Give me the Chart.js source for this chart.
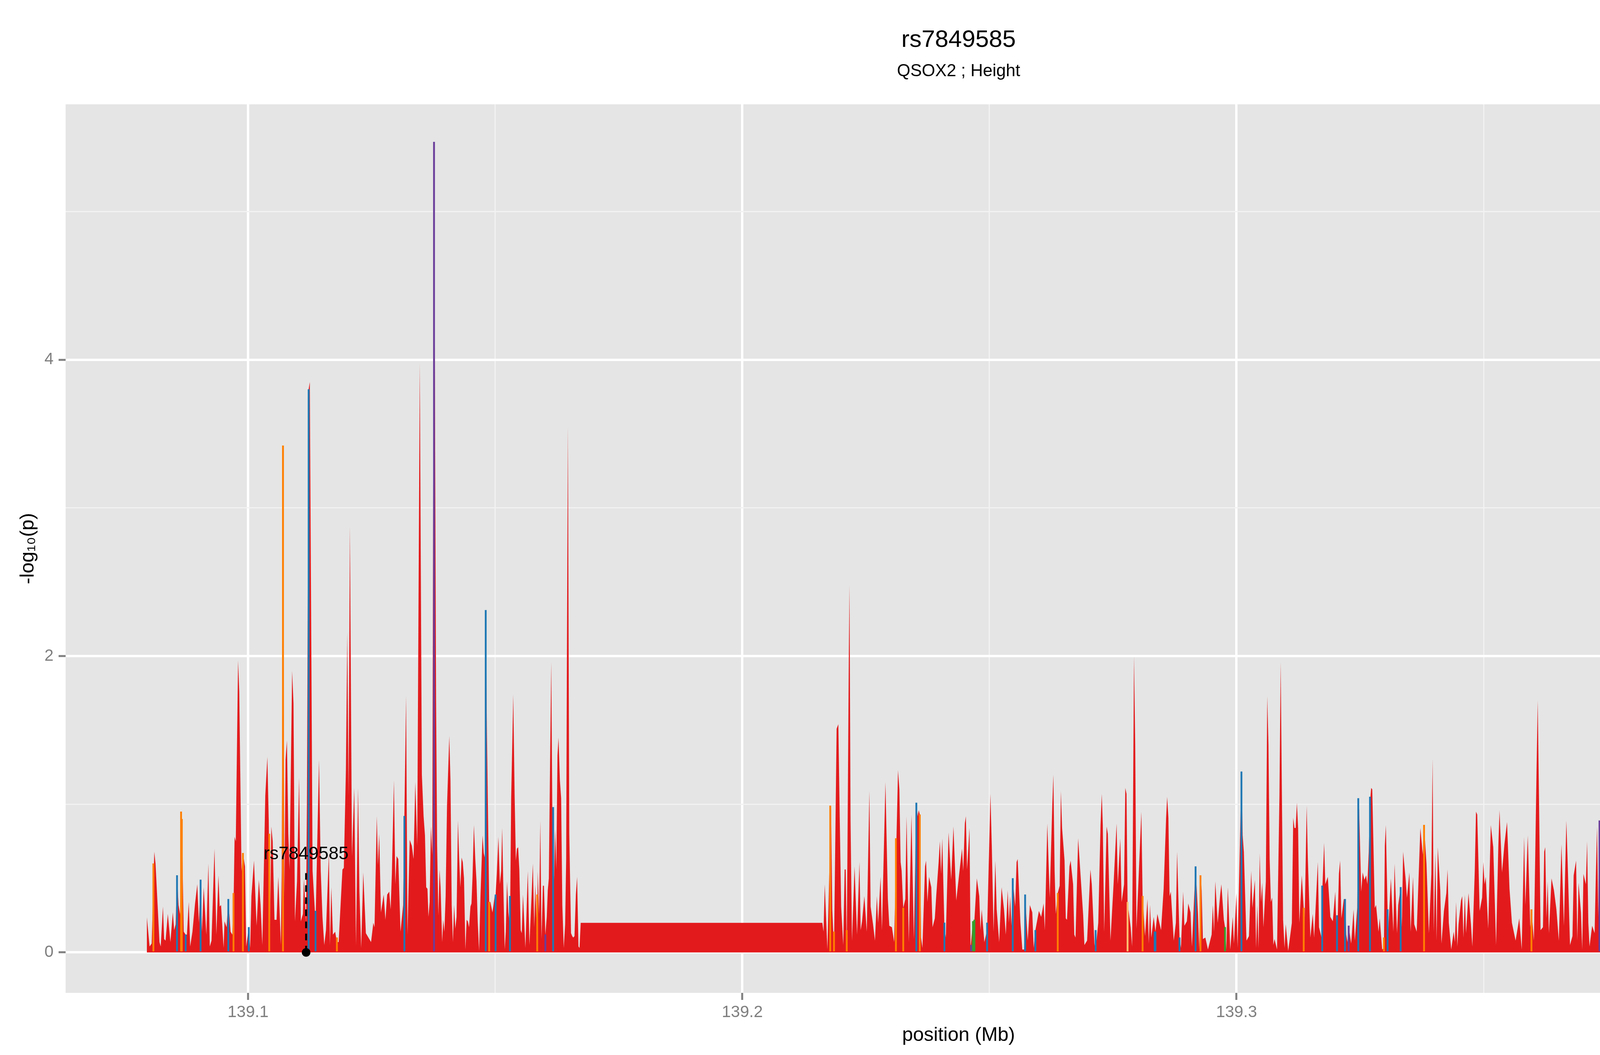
<!DOCTYPE html>
<html lang="en">
<head>
    <meta charset="UTF-8">
    <title>rs7849585 - QSOX2 ; Height</title>
    <script src="https://cdn.jsdelivr.net/npm/chart.js@4.4.0/dist/chart.umd.min.js"></script>
    <style>
        html, body { margin: 0; padding: 0; background: #ffffff; overflow: hidden; }
        #regionChart { display: block; width: 100vw; height: 100vh; }
    </style>
</head>
<body>
    <canvas id="regionChart" width="4800" height="2700"></canvas>
    <script>
        // Titles
        const titleText = 'rs7849585';
        const subtitleText = 'QSOX2 ; Height';
        const xTitle = 'position (Mb)';
        const yTitle = '-log\u2081\u2080(p)';

        // Positions are kb above 139.0 Mb, values are -log10(p)
        const posA = [79.52,80.08,80.5,81.03,81.28,82.08,82.33,82.78,83.03,83.31,
            83.77,84.29,84.78,85.06,85.35,85.63,85.94,86.29,86.54,86.75,
            86.99,87.38,87.63,88.01,88.29,88.75,89.28,89.73,90.05,90.4,
            90.68,91.03,91.56,91.98,92.26,92.61,93.21,93.59,94.01,94.26,
            94.54,95.06,95.24,95.66,96.01,96.47,96.82,97.06,97.28,97.52,
            97.98,98.22,98.68,98.96,99.38,99.63,100.15,100.43,100.68,101.2,
            101.73,102.19,102.54,102.89,103.49,103.91,104.19,104.43,104.71,104.99,
            105.35,105.77,106.12,106.64,106.82,107.07,107.35,107.59,107.87,108.15,
            108.4,108.92,109.2,109.49,109.91,110.33,110.68,111.1,111.31,111.73,
            111.91,112.26,112.5,113.06,113.66,114.36,114.71,115.06,115.42,115.77,
            116.36,116.57,116.85,117.17,117.63,117.98,118.33,119.1,119.38,119.8,
            120.08,120.33,120.61,121.03,121.49,121.84,122.26,122.54,122.89,123.31,
            123.84,124.36,124.89,125.35,125.59,126.05,126.29,126.54,126.89,127.45,
            127.8,128.15,128.57,128.85,129.1,129.52,129.8,130.05,130.4,130.85,
            131.38,131.63,131.98,132.26,132.71,133.14,133.49,133.84];
        const valA = [0.24,0.04,0.06,0.68,0.60,0.07,0.04,0.31,0.09,0.08,
            0.26,0.07,0.27,0.15,0.19,0.52,0.32,0.25,0.95,0.60,
            0.14,0.12,0.12,0.34,0.04,0.14,0.33,0.46,0.20,0.49,
            0.14,0.44,0.12,0.60,0.04,0.08,0.70,0.12,0.52,0.31,
            0.32,0.03,0.21,0.17,0.36,0.14,0.12,0.30,0.78,0.75,
            1.97,1.76,0.55,0.67,0.58,0.04,0.17,0.03,0.38,0.62,
            0.18,0.49,0.32,0.05,1.06,1.32,0.89,0.17,0.85,0.75,
            0.22,0.22,0.51,0.05,0.55,3.42,0.38,1.30,1.43,0.80,
            0.56,1.90,1.68,0.21,0.48,1.18,0.21,0.26,0.50,0.20,
            1.00,3.80,3.85,0.55,0.20,1.30,0.55,0.24,0.05,0.15,
            0.67,0.05,0.44,0.12,0.14,0.07,0.07,0.56,0.57,1.23,
            2.16,1.06,2.88,0.65,1.11,0.05,1.11,0.41,0.03,0.54,
            0.13,0.10,0.07,0.20,0.17,0.92,0.59,0.80,0.27,0.39,
            0.22,0.39,0.41,0.29,0.53,1.16,0.46,0.65,0.63,0.14,
            0.32,0.92,1.73,0.12,0.76,0.72,0.63,1.15];

        const posB = [134.23,134.75,135.17,135.52,135.8,136.05,136.3,136.51,136.75,137.0,
            137.28,137.63,138.05,138.26,138.51,138.75,138.96,139.28,139.49,139.73,
            139.98,140.26,140.72,140.96,141.21,141.45,141.7,141.94,142.19,142.47,
            142.72,142.96,143.21,143.45,143.7,143.98,144.23,144.47,144.72,145.0,
            145.21,145.42,145.7,145.98,146.23,146.47,146.75,147.03,147.45,147.7,
            147.91,148.09,148.33,148.58,148.79,149.03,149.45,149.91,150.09,150.33,
            150.65,150.96,151.21,151.42,151.66,151.94,152.15,152.4,152.68,153.0,
            153.24,153.66,153.94,154.19,154.4,154.65,154.89,155.17,155.38,155.63,
            156.12,156.61,156.93,157.38,157.63,157.91,158.12,158.51,158.61,158.89,
            159.14,159.38,159.66,159.87,160.16,160.44,160.65,160.86,161.14,161.35,
            161.56,161.91,162.12,162.37,162.61,162.82,163.1,163.35,163.59,163.88,
            164.16,164.37,164.51,164.72,165.0,165.35,165.59,165.8,166.05,166.33,
            166.58,166.86,167.07,167.31];
        const valB = [0.72,3.98,1.20,0.92,0.79,0.44,0.43,0.24,0.34,0.85,
            0.66,5.47,1.70,0.72,0.25,0.56,0.44,0.07,0.22,0.14,
            0.38,0.99,1.46,1.16,0.32,0.07,0.32,0.16,0.24,0.89,
            0.63,0.44,0.64,0.61,0.50,0.02,0.22,0.21,0.17,0.31,
            0.33,0.51,0.86,0.63,0.48,0.21,0.01,0.38,0.79,0.67,
            0.64,2.31,1.50,0.87,0.34,0.34,0.27,0.38,0.39,0.53,
            0.78,0.46,0.55,0.84,0.44,0.02,0.14,0.48,0.27,0.17,
            1.04,1.74,1.06,0.62,0.70,0.71,0.56,0.15,0.13,0.39,
            0.03,0.55,0.05,0.39,0.60,0.17,0.46,0.03,0.55,0.26,
            0.89,0.09,0.45,0.45,0.12,0.24,0.42,0.50,1.37,1.96,
            0.98,0.49,0.83,0.56,1.33,1.45,1.16,1.04,0.32,0.03,
            0.19,0.63,1.95,3.55,0.80,0.13,0.11,0.10,0.11,0.39,
            0.51,0.04,0.03,0.20];

        const posC = [216.2,216.44,216.69,217.22,217.5,217.78,217.96,218.21,218.56,219.09,
            219.44,219.73,220.01,220.43,220.71,220.93,221.14,221.56,221.7,221.91,
            222.2,222.72,223.22,223.71,223.96,224.24,224.7,225.19,225.72,225.97,
            226.46,226.85,227.24,227.49,227.98,228.26,228.97,229.46,229.75,230.28,
            230.73,231.09,231.51,231.79,232.04,232.25,232.57,232.99,233.24,233.7,
            234.23,234.72,235.22,235.5,235.71,235.92,236.17,236.45,236.98,237.19,
            237.47,237.79,238.25,238.5,238.96,239.24,239.73,239.98,240.23,240.47,
            240.9,241.18,241.74,242.27,242.73,243.3,243.79,244.46,244.71,245.03,
            245.24,245.48,245.98,246.19,246.68,246.97,247.46,247.95,248.2,248.45,
            248.98,249.54,249.96,250.21,250.49,250.85,251.2,251.48,251.98,252.47,
            252.96,253.32,253.71,253.95,254.2,254.45,254.73,255.22,255.5,255.72,
            256.28,256.67,257.02,257.23,257.76,258.19,258.68,258.96,259.31,260.02,
            260.48,260.97,261.22,261.72,262.21,262.74,262.95,263.2,263.44,263.83,
            264.22,264.47,264.71,265.21,265.46,265.7,266.2,266.44,266.94,267.18,
            267.43,267.96,268.45,268.98,269.23];
        const valC = [0.20,0.14,0.46,0.02,0.38,0.79,0.99,0.29,0.02,1.51,
            1.54,0.89,0.31,0.05,0.56,0.56,0.03,2.00,2.48,0.89,
            0.08,0.58,0.12,0.61,0.15,0.21,0.38,0.14,1.09,0.31,
            0.19,0.08,0.38,0.20,0.51,0.15,1.15,0.36,0.18,0.17,
            0.07,0.60,1.23,1.10,0.61,0.55,0.30,0.36,0.92,0.07,
            0.93,0.09,1.01,0.92,0.96,0.93,0.10,0.03,0.58,0.62,
            0.34,0.51,0.44,0.17,0.23,0.38,0.61,0.75,0.53,0.77,
            0.17,0.10,0.81,0.49,0.85,0.35,0.50,0.70,0.55,0.87,
            0.92,0.56,0.84,0.03,0.21,0.22,0.50,0.38,0.15,0.29,
            0.07,0.15,0.72,1.07,0.72,0.14,0.62,0.29,0.07,0.44,
            0.29,0.12,0.42,0.20,0.38,0.18,0.50,0.31,0.61,0.63,
            0.20,0.02,0.02,0.39,0.08,0.32,0.27,0.03,0.15,0.28,
            0.24,0.33,0.15,0.87,0.37,1.01,1.20,0.55,0.26,0.40,
            0.45,1.09,0.84,0.62,0.23,0.22,0.58,0.62,0.46,0.12,
            0.10,0.77,0.52,0.25,0.05];

        const posD = [269.77,270.44,270.72,271.25,271.5,272.03,272.49,272.74,272.95,273.23,
            273.72,273.97,274.5,275.14,275.74,275.98,276.48,276.76,277.25,277.5,
            277.75,277.96,278.59,278.88,279.26,279.51,279.76,280.25,280.75,281.0,
            281.49,281.98,282.26,282.51,282.76,283.25,283.6,283.99,284.73,285.26,
            285.76,285.97,286.22,286.46,286.71,287.31,287.73,287.98,288.47,288.76,
            289.21,289.46,289.96,290.24,290.7,290.98,291.72,292.21,292.46,292.71,
            292.95,293.2,293.7,294.22,294.97,295.21,295.46,295.71,296.2,296.7,
            296.94,297.44,297.68,297.93,298.25,298.74,299.24,299.48,299.98,300.22,
            300.79,301.0,301.25,301.49,302.02,302.52,302.98,303.22,303.72,303.96,
            304.21,304.46,304.7,304.95,305.2,305.45,305.94,306.22,306.47,306.71,
            306.96,307.21,307.46,307.7,308.2,308.69,308.94,309.19,309.43,309.72,
            309.96,310.46,311.2,311.48,311.73,311.97,312.22,312.47,312.71,313.21,
            313.6,313.7,314.2,314.44,314.94,315.43,315.71,316.46,316.7,317.2,
            317.34,317.73,317.97,318.47,318.99,319.49,319.98,320.34,320.72,320.97,
            321.22,321.71,321.96,322.21,322.45,322.7,323.2,323.69,323.94,324.43,
            324.64];
        const valD = [0.08,0.56,0.46,0.06,0.02,0.20,0.86,1.07,0.86,0.14,
            0.85,0.80,0.08,0.47,0.87,0.46,0.77,0.34,0.46,1.11,
            1.07,0.34,0.17,0.04,2.00,1.40,0.16,0.55,0.95,0.38,
            0.11,0.36,0.06,0.32,0.10,0.24,0.14,0.26,0.15,0.43,
            0.91,1.05,0.91,0.38,0.41,0.08,0.20,0.68,0.10,0.03,
            0.41,0.18,0.21,0.33,0.27,0.04,0.58,0.26,0.02,0.52,
            0.42,0.09,0.10,0.02,0.12,0.32,0.14,0.48,0.20,0.39,
            0.46,0.22,0.17,0.02,0.44,0.02,0.24,0.06,0.40,0.03,
            0.89,1.22,0.79,0.68,0.08,0.11,0.55,0.30,0.49,0.03,
            0.32,0.03,0.67,0.34,0.47,0.17,0.48,1.73,1.40,0.63,
            0.34,0.37,0.05,0.09,0.02,1.06,1.96,1.06,0.22,0.03,
            0.19,0.01,0.20,0.91,0.84,0.84,1.01,0.84,0.20,0.52,
            0.30,0.05,0.99,0.63,0.10,0.26,0.10,0.61,0.17,0.10,
            0.40,0.74,0.46,0.51,0.24,0.21,0.41,0.05,0.53,0.62,
            0.23,0.36,0.36,0.12,0.07,0.18,0.06,0.29,0.08,0.30,
            1.04];

        const posE = [324.82,325.24,325.53,325.88,326.23,326.48,326.76,327.01,327.25,327.47,
            327.98,328.24,328.74,328.98,329.48,329.83,330.01,330.22,330.57,330.71,
            331.24,331.74,331.98,332.48,332.72,333.22,333.46,333.71,334.21,334.49,
            334.98,335.23,335.72,335.97,336.46,337.2,337.7,337.95,338.44,338.93,
            339.43,339.68,339.92,340.24,340.49,340.73,341.23,341.47,341.97,342.46,
            342.71,342.96,343.45,343.94,344.19,344.44,344.69,344.93,345.43,345.67,
            345.92,346.2,346.45,346.94,347.44,347.72,348.21,348.46,348.71,349.2,
            349.7,349.94,350.19,350.44,350.93,351.46,351.95,352.52,352.98,353.22,
            353.72,354.21,354.74,355.24,355.73,356.47,356.97,357.21,357.71,358.2,
            358.45,358.94,359.44,359.68,360.18,360.71,360.95,361.2,361.52,362.01,
            362.26,362.47,362.72,362.96,363.21,363.74,364.23,364.73,365.22,365.75,
            366.25,366.74,366.99,367.48,367.98,368.22,368.71,368.96,369.21,369.7,
            369.95,370.2,370.69,370.94,371.19,371.43,371.96,372.46,372.7,372.95,
            373.2,373.45,373.94,374.19,374.43,374.68,374.93,375.46,375.7,376.2,
            376.69,376.94,377.43,377.93,378.42,378.67,379.16,379.66,380.15];
        const valE = [0.96,0.41,0.54,0.49,0.52,0.46,0.68,1.01,1.11,1.10,
            0.30,0.32,0.14,0.23,0.02,0.03,0.72,0.86,0.29,0.15,
            0.50,0.14,0.60,0.13,0.32,0.44,0.17,0.68,0.50,0.37,
            0.54,0.14,0.51,0.19,0.14,0.84,0.66,0.86,0.60,0.13,
            0.53,1.31,0.14,0.67,0.08,0.71,0.42,0.06,0.28,0.40,
            0.56,0.20,0.02,0.14,0.07,0.34,0.04,0.19,0.35,0.38,
            0.10,0.39,0.13,0.40,0.19,0.04,0.55,0.95,0.93,0.28,
            0.37,0.61,0.46,0.51,0.16,0.86,0.71,0.05,0.72,0.96,
            0.54,0.73,0.88,0.43,0.20,0.08,0.18,0.23,0.02,0.78,
            0.32,0.79,0.17,0.29,0.08,1.23,1.70,1.06,0.15,0.17,
            0.68,0.71,0.23,0.48,0.13,0.50,0.42,0.29,0.08,0.73,
            0.18,0.89,0.63,0.05,0.11,0.52,0.62,0.08,0.47,0.27,
            0.02,0.53,0.46,0.75,0.20,0.04,0.18,0.13,0.51,0.85,
            0.24,0.89,0.09,0.32,0.11,0.27,0.06,0.74,0.97,0.02,
            0.19,0.03,0.58,0.37,0.31,0.11,0.43,0.02,0.10];

        const posF = [380.48,381.0,381.53,382.0,382.27,382.53,382.98,383.24,383.51,383.77,
            384.03,384.3,384.77,385.03,385.3,385.56,385.77,386.27,386.54,386.75,
            387.01,387.27,387.51,388.01,388.28,388.54,388.99,389.25,389.75,390.04,
            390.25,390.49,390.75,390.96,391.54,391.75,391.96,392.23,392.33,392.76,
            393.26,393.49,393.73,393.97,394.13,394.34,394.73,395.05,395.26,395.52,
            395.89,396.37,396.73,397.02,397.29,397.76,398.03,398.21,398.53,399.0,
            399.26,399.74,399.98,400.5,400.74,401.0,401.27,401.77,401.98,402.24,
            402.77,403.03,403.48,403.74,404.22,404.46,404.88,405.01,405.72,406.25,
            406.48,406.98,407.22,407.51,407.75,407.96];
        const valF = [0.08,0.26,0.34,0.39,0.17,0.06,0.29,0.92,0.50,0.99,
            0.86,0.37,0.20,0.10,0.51,0.38,0.50,0.56,0.24,0.08,
            0.65,0.19,0.14,0.38,1.08,0.32,0.42,0.07,0.76,0.38,
            0.36,0.61,0.68,0.20,1.06,1.42,0.97,0.38,0.12,0.31,
            0.33,0.62,0.47,0.52,0.26,0.32,0.64,0.32,0.20,0.32,
            0.20,0.25,0.69,0.38,0.29,0.34,0.31,0.45,0.02,0.50,
            0.24,0.62,0.72,0.14,0.11,0.42,0.49,0.44,0.51,0.38,
            0.32,0.22,0.12,0.02,0.18,0.05,0.63,0.77,0.48,0.80,
            0.63,0.83,0.44,0.65,0.63,0.43];

        // SNPs in other annotation classes (drawn as thin coloured slivers)
        const orangePos = [80.85,86.45,86.6,97.06,98.96,104.29,107.07,117.98,148.79,158.51,
            217.8,218.56,221.14,231.09,232.57,235.92,263.83,281.0,292.71,313.6,
            329.83,337.95,359.68,385.56,390.75,397.29];
        const orangeVal = [0.60,0.95,0.90,0.40,0.67,0.80,3.42,0.10,0.34,0.39,
            0.99,0.14,0.15,0.77,0.30,0.93,0.40,0.38,0.52,0.30,
            0.10,0.86,0.29,0.38,0.68,0.29];
        const peachPos = [277.96];
        const peachVal = [0.34];
        const bluePos = [85.63,87.38,90.4,96.01,100.15,112.26,113.66,131.63,148.09,150.09,
            153.0,161.73,235.22,240.9,249.54,254.73,257.23,259.31,271.5,283.45,
            283.6,288.47,291.72,301.0,317.34,320.34,321.96,324.64,327.01,330.57,
            333.22,383.24,383.4,394.13,395.89,403.03,404.88];
        const blueVal = [0.52,0.12,0.49,0.36,0.17,3.80,0.28,0.92,2.31,0.39,
            0.38,0.98,1.01,0.20,0.20,0.50,0.39,0.15,0.15,0.14,
            0.14,0.10,0.58,1.22,0.45,0.25,0.36,1.04,1.05,0.29,
            0.44,0.92,0.70,0.45,0.20,0.22,0.63];
        const purplePos = [137.63,160.16,246.3,322.7,373.45];
        const purpleVal = [5.47,0.12,0.05,0.18,0.89];
        const greenPos = [246.68,246.97,297.68];
        const greenVal = [0.21,0.22,0.17];

        // Highlighted SNP
        const leadSnp = 'rs7849585';
        const leadPos = 111.75;
        const leadLineTop = 0.55;
        const leadLabelY = 0.63;

        // Axes
        const xRange = [139.06309, 139.42445];
        const yRange = [-0.273, 5.724];
        const xMajorTicks = [139.1, 139.2, 139.3, 139.4];
        const xMinorTicks = [139.15, 139.25, 139.35];
        const yMajorTicks = [0, 2, 4];
        const yMinorTicks = [1, 3, 5];

        const toMb = kb => 139 + kb / 1000;
        const toPoints = (p, v) => p.map((kb, i) => ({ x: toMb(kb), y: v[i] }));

        const areaPoints = [].concat(
            toPoints(posA, valA), toPoints(posB, valB), toPoints(posC, valC),
            toPoints(posD, valD), toPoints(posE, valE), toPoints(posF, valF)
        );

        const isMajor = (list, v) => list.some(t => Math.abs(t - v) < 1e-9);

        Chart.defaults.font.family = '"Liberation Sans", Arial, sans-serif';

        const panelBackground = {
            id: 'panelBackground',
            beforeDraw(chart) {
                const { ctx, chartArea: a } = chart;
                ctx.save();
                ctx.fillStyle = '#E5E5E5';
                ctx.fillRect(a.left, a.top, a.right - a.left, a.bottom - a.top);
                ctx.restore();
            }
        };

        const headerText = {
            id: 'headerText',
            afterDraw(chart) {
                const { ctx, chartArea: a, scales } = chart;
                const cx = (a.left + a.right) / 2;
                ctx.save();
                ctx.fillStyle = '#000000';
                ctx.textAlign = 'center';
                ctx.textBaseline = 'alphabetic';
                ctx.font = '62px "Liberation Sans"';
                ctx.fillText(titleText, cx, 120);
                ctx.font = '44px "Liberation Sans"';
                ctx.fillText(subtitleText, cx, 195);
                // label of the highlighted SNP
                ctx.font = '46px "Liberation Sans"';
                ctx.fillText(leadSnp, scales.x.getPixelForValue(toMb(leadPos)),
                    scales.y.getPixelForValue(leadLabelY));
                ctx.restore();
            }
        };

        const sliver = (label, pos, val, color) => ({
            type: 'bar',
            label: label,
            data: toPoints(pos, val),
            backgroundColor: color,
            borderWidth: 0,
            barThickness: 4,
            grouped: false,
            order: 2
        });

        new Chart(document.getElementById('regionChart'), {
            type: 'line',
            data: {
                datasets: [
                    {
                        label: 'other',
                        data: areaPoints,
                        fill: 'origin',
                        backgroundColor: '#E31A1C',
                        borderColor: '#E31A1C',
                        borderWidth: 0,
                        pointRadius: 0,
                        tension: 0,
                        order: 3
                    },
                    sliver('orange', orangePos, orangeVal, '#FF7F00'),
                    sliver('peach', peachPos, peachVal, '#FDBF6F'),
                    sliver('blue', bluePos, blueVal, '#1F78B4'),
                    sliver('purple', purplePos, purpleVal, '#6A3D9A'),
                    sliver('green', greenPos, greenVal, '#33A02C'),
                    {
                        label: 'lead line',
                        data: [{ x: toMb(leadPos), y: 0 }, { x: toMb(leadPos), y: leadLineTop }],
                        borderColor: '#000000',
                        borderWidth: 5,
                        borderDash: [17, 14],
                        pointRadius: 0,
                        fill: false,
                        order: 1
                    },
                    {
                        label: 'lead point',
                        data: [{ x: toMb(leadPos), y: 0 }],
                        showLine: false,
                        pointRadius: 11,
                        pointBackgroundColor: '#000000',
                        pointBorderWidth: 0,
                        order: 0
                    }
                ]
            },
            options: {
                responsive: false,
                animation: false,
                devicePixelRatio: 1,
                layout: { padding: { top: 267, right: 60, bottom: 0, left: 0 } },
                plugins: {
                    legend: { display: false },
                    tooltip: { enabled: false }
                },
                scales: {
                    x: {
                        type: 'linear',
                        min: xRange[0],
                        max: xRange[1],
                        offset: false,
                        afterBuildTicks: s => {
                            s.ticks = xMajorTicks.concat(xMinorTicks).sort((a, b) => a - b).map(v => ({ value: v }));
                        },
                        afterFit: s => { s.height = 159; },
                        ticks: {
                            autoSkip: false,
                            maxRotation: 0,
                            padding: 7,
                            color: '#7F7F7F',
                            font: { size: 42 },
                            callback: v => isMajor(xMajorTicks, v) ? v.toFixed(1) : ''
                        },
                        grid: {
                            offset: false,
                            color: c => isMajor(xMajorTicks, c.tick.value) ? '#FFFFFF' : '#F2F2F2',
                            lineWidth: c => isMajor(xMajorTicks, c.tick.value) ? 6 : 3,
                            tickLength: 18,
                            tickWidth: 5,
                            tickColor: c => isMajor(xMajorTicks, c.tick.value) ? '#7F7F7F' : 'rgba(0,0,0,0)'
                        },
                        border: { display: false },
                        title: {
                            display: true,
                            text: xTitle,
                            color: '#000000',
                            font: { size: 50 },
                            padding: { top: 0, bottom: 20 }
                        }
                    },
                    y: {
                        type: 'linear',
                        min: yRange[0],
                        max: yRange[1],
                        afterBuildTicks: s => {
                            s.ticks = yMajorTicks.concat(yMinorTicks).sort((a, b) => a - b).map(v => ({ value: v }));
                        },
                        afterFit: s => { s.width = 168; },
                        ticks: {
                            autoSkip: false,
                            padding: 13,
                            color: '#7F7F7F',
                            font: { size: 42 },
                            callback: v => isMajor(yMajorTicks, v) ? String(v) : ''
                        },
                        grid: {
                            color: c => isMajor(yMajorTicks, c.tick.value) ? '#FFFFFF' : '#F2F2F2',
                            lineWidth: c => isMajor(yMajorTicks, c.tick.value) ? 6 : 3,
                            tickLength: 18,
                            tickWidth: 5,
                            tickColor: c => isMajor(yMajorTicks, c.tick.value) ? '#7F7F7F' : 'rgba(0,0,0,0)'
                        },
                        border: { display: false },
                        title: {
                            display: true,
                            text: yTitle,
                            color: '#000000',
                            font: { size: 50 },
                            padding: { top: 42, bottom: 0 }
                        }
                    }
                }
            },
            plugins: [panelBackground, headerText]
        });
    </script>
</body>
</html>
